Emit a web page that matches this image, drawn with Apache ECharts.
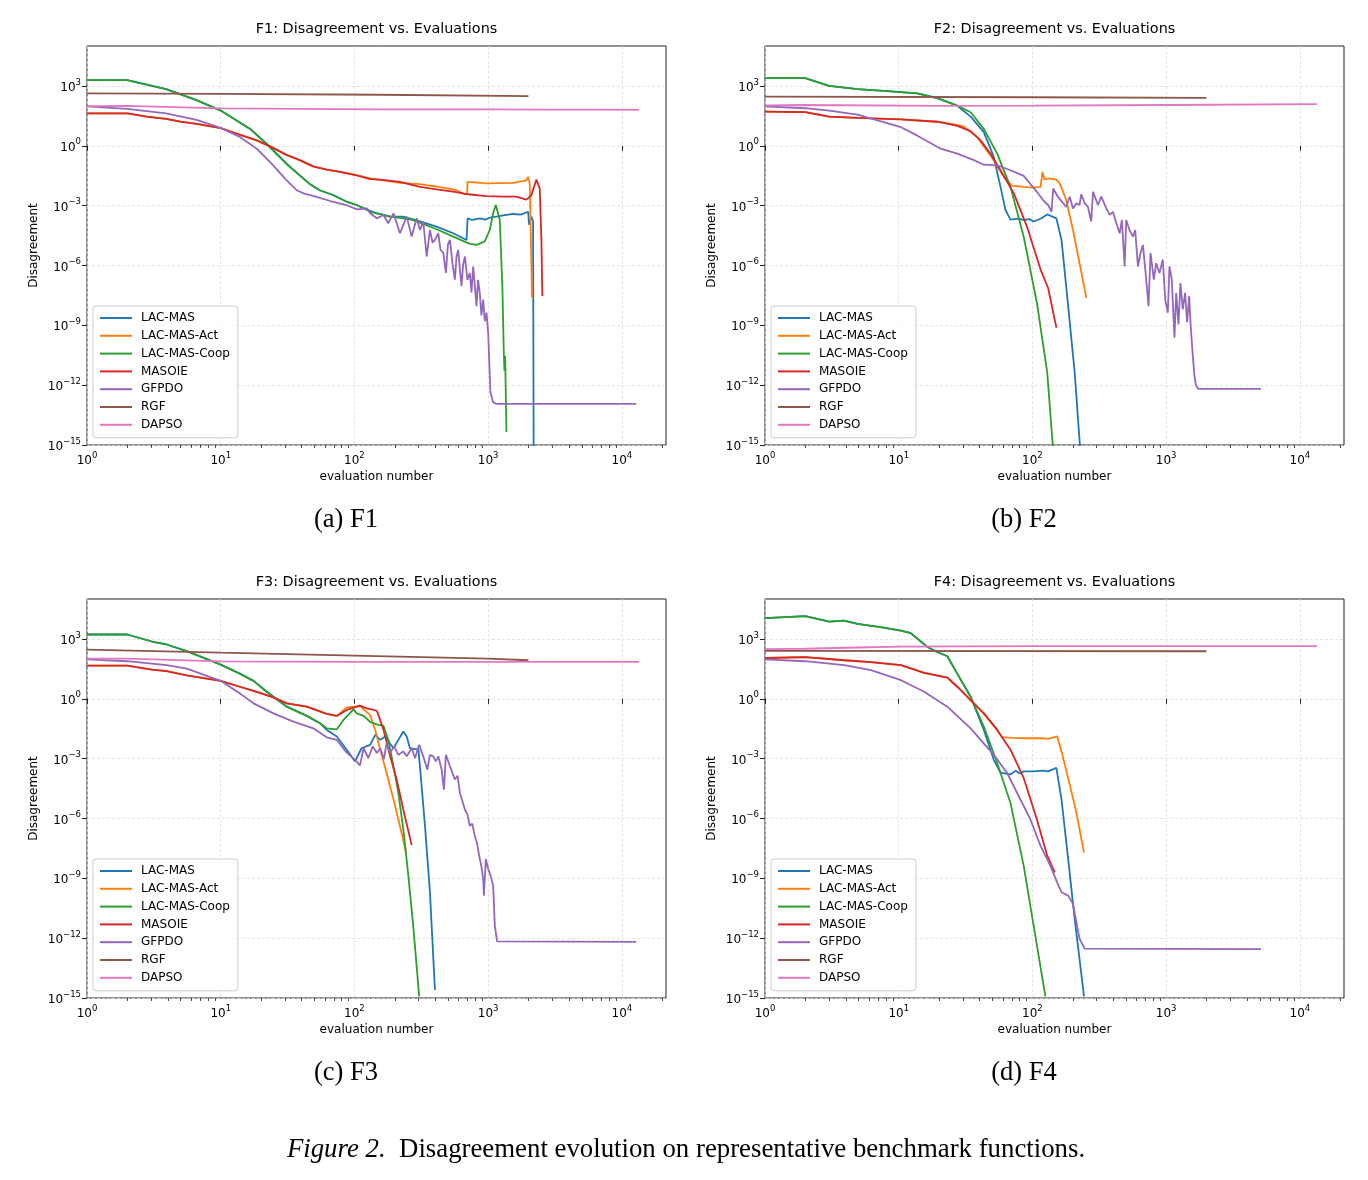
<!DOCTYPE html>
<html>
<head>
<meta charset="utf-8">
<title>Disagreement evolution</title>
<script src="https://cdn.jsdelivr.net/npm/echarts@6.0.0/dist/echarts.min.js"></script>
<style>
  html, body { margin: 0; padding: 0; background: #fff; }
  #main { width: 1368px; height: 1180px; }
</style>
</head>
<body>
<div id="main"></div>
<script>
// values: [evaluation number, disagreement]
var seriesNames = ['LAC-MAS', 'LAC-MAS-Act', 'LAC-MAS-Coop', 'MASOIE', 'GFPDO', 'RGF', 'DAPSO'];
var panelTitles = ['F1: Disagreement vs. Evaluations', 'F2: Disagreement vs. Evaluations',
                   'F3: Disagreement vs. Evaluations', 'F4: Disagreement vs. Evaluations'];
var subCaptions = ['(a) F1', '(b) F2', '(c) F3', '(d) F4'];
var xTickExps = [0, 1, 2, 3, 4];
var yTickExps = [-15, -12, -9, -6, -3, 0, 3];

// ---- F1
var f1LacMas = [[1,1950],[2,1950],[3.9,690],[6.6,195],[10,58],[16.6,7.0],[22,1.26],[31,0.126],[39,0.033],[46,0.0126],[55,5.9e-3],[69,3.4e-3],[87,1.6e-3],[104,1.07e-3],[131,5.5e-4],[147,4.1e-4],[185,2.8e-4],[232,2.8e-4],[309,1.6e-4],[411,8.9e-5],[548,4.1e-5],[689,1.9e-5],[702,2.3e-4],[760,1.9e-4],[866,2.3e-4],[950,2.0e-4],[1050,2.6e-4],[1154,2.8e-4],[1300,3.2e-4],[1538,3.8e-4],[1750,3.5e-4],[1990,4.9e-4],[2024,1.1e-4],[2105,2.8e-4],[2167,1.6e-4],[2190,1e-16]];
var f1LacMasAct = [[1,42],[2,42],[2.8,29],[3.9,22],[5,16],[6.6,12.5],[10,7.6],[14,3.5],[18.6,1.85],[23.4,0.93],[31,0.35],[39,0.19],[49,0.093],[62,0.063],[78,0.049],[104,0.034],[131,0.023],[219,0.0138],[309,0.0118],[424,8.7e-3],[564,6.4e-3],[670,3.7e-3],[695,4.0e-3],[702,0.0155],[972,0.0129],[1250,0.0135],[1538,0.0138],[1932,0.0186],[1990,0.0275],[2047,0.0129],[2130,2.4e-8]];
var f1LacMasCoop = [[1,1950],[2,1950],[3.9,690],[6.6,195],[10,58],[16.6,7.0],[22,1.26],[31,0.126],[39,0.033],[46,0.0126],[55,5.9e-3],[69,3.4e-3],[87,1.6e-3],[104,1.07e-3],[131,4.9e-4],[160,3.6e-4],[185,2.8e-4],[232,2.3e-4],[270,1.9e-4],[309,1.4e-4],[411,6.5e-5],[548,2.8e-5],[730,1.2e-5],[818,1.07e-5],[944,1.6e-5],[1029,6.0e-5],[1089,4.1e-4],[1141,1.07e-3],[1222,1.9e-4],[1279,6.2e-8],[1309,4.3e-11],[1324,5.2e-12],[1340,3e-11],[1370,4.5e-15]];
var f1Masoie = [[1,42],[2,42],[2.8,29],[3.9,22],[5,16],[6.6,12.5],[10,7.6],[14,3.5],[18.6,1.85],[23.4,0.93],[31,0.35],[39,0.19],[49,0.093],[62,0.063],[78,0.049],[104,0.033],[131,0.021],[155,0.020],[219,0.0155],[309,8.7e-3],[424,6.4e-3],[564,4.9e-3],[702,3.7e-3],[972,3.0e-3],[1309,2.8e-3],[1626,2.8e-3],[1932,2.0e-3],[2105,3.3e-3],[2203,8.7e-3],[2296,0.020],[2431,7.2e-3],[2502,1.9e-5],[2542,2.9e-8]];
var f1Gfpdo = [[1,95],[2,70],[3.9,42],[6.6,20],[10,7.9],[14,2.7],[18.6,0.71],[24.7,0.105],[31,0.019],[37,5.9e-3],[41.7,4.1e-3],[49,3.1e-3],[66,1.7e-3],[87,1.07e-3],[104,6.5e-4],[124,7.2e-4],[131,4.1e-4],[147,2.3e-4],[165,3.4e-4],[179,1.3e-4],[196,4.1e-4],[219,4.1e-5],[246,2.8e-4],[268,2.8e-5],[292,2.3e-4],[309,6.0e-5],[327,1.6e-4],[347,2.8e-6],[367,6.0e-5],[384,1.4e-5],[400,1.9e-5],[424,4.1e-5],[440,6.0e-6],[462,4.2e-6],[483,4.2e-7],[500,1.1e-5],[518,1.9e-5],[540,1.4e-6],[564,1.95e-7],[580,2.8e-6],[597,6.0e-6],[615,6.2e-7],[632,9.1e-8],[650,1.1e-6],[670,2.8e-6],[700,1.9e-7],[730,4.2e-7],[750,4.5e-8],[773,8.9e-7],[795,9.5e-8],[818,9.1e-9],[840,1.9e-7],[866,4.2e-8],[890,3.1e-9],[918,1.95e-8],[944,1.6e-9],[972,4.3e-9],[1000,4.3e-10],[1040,4.4e-13],[1089,1.4e-13],[1154,1.15e-13],[12800,1.15e-13]];
var f1Rgf = [[1,420],[10,400],[155,360],[2000,310]];
var f1Dapso = [[1,98],[2,100],[10,75],[155,67],[1000,66],[3000,64],[6000,65],[13400,63]];

// ---- F2
var f2LacMas = [[1,2450],[2,2450],[3.02,1000],[4.92,690],[8.7,530],[13.8,420],[19.4,245],[27.4,102],[34.5,29],[43.3,4.8],[51.4,0.275],[57.7,8.7e-3],[62.9,6.0e-4],[68.5,2.0e-4],[78,2.2e-4],[86,1.9e-4],[95,2.1e-4],[102,1.6e-4],[115,2.2e-4],[129,3.6e-4],[151,2.3e-4],[165,1.9e-5],[185,9.1e-9],[207,4.4e-12],[228,5e-16]];
var f2LacMasAct = [[1,51],[2,48],[3.02,29],[4.92,25],[10.4,21],[19.4,16],[27.4,11],[30.7,9.1],[38.6,2.7],[48.6,0.33],[61.1,0.0275],[70.5,9.8e-3],[86,8.7e-3],[100,8.0e-3],[115,8.7e-3],[119,0.049],[123,0.020],[131,0.023],[151,0.020],[160,0.0129],[179,1.9e-3],[201,6.0e-5],[225,1.3e-6],[253,2.4e-8]];
var f2LacMasCoop = [[1,2450],[2,2450],[3.02,1000],[4.92,690],[8.7,530],[13.8,420],[19.4,245],[27.4,102],[34.5,48],[43.3,7.0],[54.5,0.4],[68.5,8.7e-3],[86,2.8e-5],[108,1.35e-8],[129,4.4e-12],[143,5e-16]];
var f2Masoie = [[1,51],[2,48],[3.02,29],[4.92,25],[10.4,21],[19.4,16],[27.4,10],[34.5,5.4],[40.9,1.86],[48.6,0.4],[57.7,0.059],[72.6,4.1e-3],[91,8.9e-5],[115,6.2e-7],[131,7.4e-8],[151,7.6e-10]];
var f2Gfpdo = [[1,95],[2,76],[3.02,58],[4.92,36],[10.4,8.5],[13.8,3.2],[20.6,0.71],[27.4,0.4],[36.5,0.19],[43.3,0.112],[54.5,0.105],[68.5,0.059],[86,0.031],[108,4.9e-3],[120,1.9e-3],[131,1.07e-3],[139,4.9e-4],[143,7.2e-3],[155,2.8e-3],[170,1.3e-3],[179,8.7e-4],[190,2.8e-3],[201,7.2e-4],[213,1.3e-3],[225,1.07e-3],[232,3.7e-3],[246,1.3e-3],[260,8.7e-4],[275,1.6e-4],[284,4.9e-3],[309,1.07e-3],[327,2.8e-3],[357,7.2e-4],[378,3.4e-4],[400,4.9e-4],[424,1.3e-4],[449,4.1e-5],[467,1.9e-4],[489,8.9e-7],[503,1.9e-4],[532,6.0e-5],[564,2.8e-5],[587,6.0e-5],[615,8.9e-7],[643,4.2e-6],[670,1.07e-5],[702,4.2e-7],[738,9.1e-9],[764,4.2e-6],[809,1.95e-7],[842,1.3e-6],[891,4.2e-7],[944,1.95e-6],[984,1.95e-8],[1029,4.3e-9],[1059,8.9e-7],[1102,1.95e-7],[1154,2.4e-10],[1188,4.2e-8],[1237,1.1e-9],[1279,1.3e-7],[1331,6.2e-9],[1386,4.2e-8],[1435,1.4e-9],[1486,2.9e-8],[1520,1.4e-9],[1582,3.0e-11],[1627,3.0e-12],[1675,9.3e-13],[1743,6.5e-13],[5120,6.5e-13]];
var f2Rgf = [[1,290],[100,270],[2000,250]];
var f2Dapso = [[1,105],[2,110],[20,100],[100,102],[1000,110],[13400,123]];

// ---- F3
var f3LacMas = [[1,1660],[2,1660],[3.05,740],[3.94,525],[5.57,245],[10,51],[13.9,18.2],[17.6,7.9],[22.1,2.24],[31.2,0.4],[44,0.138],[55.3,0.059],[62.1,0.0275],[73.8,0.0129],[87.6,2.8e-3],[101,7.2e-4],[113,3.3e-3],[131,4.9e-3],[143,0.0155],[156,8.7e-3],[170,0.0129],[185,5.5e-3],[196,3.3e-3],[213,8.7e-3],[232,0.023],[246,0.0129],[260,3.3e-3],[301,2.8e-3],[309,4.1e-4],[337,4.2e-7],[367,2.0e-10],[400,2.5e-15]];
var f3LacMasAct = [[1,46],[2,46],[3.05,29],[3.94,24],[5.57,15],[10,7.9],[13.9,4.0],[17.6,2.5],[24.8,1.17],[31.2,0.59],[44,0.4],[62.1,0.174],[73.8,0.138],[87.6,0.37],[110,0.43],[131,0.15],[143,0.0275],[156,2.8e-3],[174,1.9e-4],[196,8.9e-6],[219,4.2e-7],[243,2.1e-8]];
var f3LacMasCoop = [[1,1660],[2,1660],[3.05,740],[3.94,525],[5.57,245],[10,51],[13.9,18.2],[17.6,7.9],[22.1,2.24],[31.2,0.4],[44,0.138],[55.3,0.059],[62.1,0.033],[73.8,0.0295],[82.8,0.087],[98.3,0.295],[104,0.186],[117,0.14],[131,0.07],[147,0.052],[165,0.044],[179,8.7e-3],[196,4.1e-4],[213,1.9e-5],[232,2.9e-7],[253,1.35e-9],[275,4.4e-12],[305,1.2e-15]];
var f3Masoie = [[1,46],[2,46],[3.05,29],[3.94,24],[5.57,15],[10,7.9],[13.9,4.0],[17.6,2.5],[24.8,1.17],[31.2,0.59],[44,0.4],[62.1,0.174],[73.8,0.138],[87.6,0.275],[110,0.45],[124,0.33],[139,0.28],[147,0.25],[151,0.155],[165,0.0275],[185,1.3e-3],[207,8.9e-5],[232,2.8e-6],[268,4.6e-8]];
var f3Gfpdo = [[1,95],[2,76],[3.94,48],[5.57,32],[10,7.9],[13.9,1.86],[17.6,0.59],[24.8,0.186],[35,0.071],[49.3,0.033],[62.1,0.0117],[73.8,8.7e-3],[87.6,2.0e-3],[101,8.7e-4],[110,4.6e-4],[117,3.3e-3],[127,1.07e-3],[137,4.1e-3],[147,1.9e-3],[156,3.3e-3],[166,9.5e-4],[174,5.9e-3],[185,1.9e-3],[198,4.1e-3],[213,1.55e-3],[232,2.3e-3],[246,1.3e-3],[268,3.3e-3],[284,1.07e-3],[305,4.9e-3],[327,1.3e-3],[351,2.8e-4],[367,1.55e-3],[389,1.3e-3],[406,7.2e-4],[424,1.3e-3],[449,2.8e-4],[467,2.8e-5],[483,1.55e-3],[518,4.1e-4],[564,8.9e-5],[590,1.4e-4],[615,1.9e-5],[640,8.0e-6],[670,2.8e-6],[700,1.6e-6],[730,4.2e-7],[760,5.5e-7],[795,1.3e-7],[825,6.0e-8],[857,1.35e-8],[890,4.0e-9],[918,9.1e-10],[929,1.35e-10],[961,9.1e-9],[1000,3.0e-9],[1041,1.4e-9],[1090,4.3e-10],[1121,4.4e-12],[1167,6.9e-13],[12800,6.5e-13]];
var f3Rgf = [[1,290],[10,204],[100,145],[1000,102],[2000,85]];
var f3Dapso = [[1,102],[2,102],[10,75],[100,70],[1000,70],[13400,70]];

// ---- F4
var f4LacMas = [[1,1.1e4],[2,1.4e4],[3.02,7.4e3],[3.91,8.3e3],[4.92,5.6e3],[7.3,3.9e3],[10.4,2.6e3],[12.3,1.95e3],[16.4,390],[19.4,220],[23.1,135],[27.4,18.2],[34.5,1.26],[43.3,0.0275],[51.4,8.7e-4],[57.7,2.0e-4],[68.5,1.6e-4],[75,2.5e-4],[80,1.8e-4],[86,2.3e-4],[102,2.3e-4],[120,2.5e-4],[131,2.3e-4],[151,3.4e-4],[165,8.9e-6],[185,9.1e-9],[207,9.3e-12],[243,1.2e-15]];
var f4LacMasAct = [[1,110],[2,123],[3.91,85],[6.2,69],[10.4,48],[15.5,20],[23.1,11.5],[27.4,4.0],[34.5,0.85],[43.3,0.186],[54.5,0.0275],[59.4,0.0118],[70,0.011],[86,0.0105],[115,0.0105],[131,9.8e-3],[153,0.0129],[165,2.3e-3],[190,5.0e-5],[213,1.95e-6],[243,1.95e-8]];
var f4LacMasCoop = [[1,1.1e4],[2,1.4e4],[3.02,7.4e3],[3.91,8.3e3],[4.92,5.6e3],[7.3,3.9e3],[10.4,2.6e3],[12.3,1.95e3],[16.4,390],[19.4,220],[23.1,135],[27.4,18.2],[34.5,1.26],[43.3,0.04],[54.5,6.0e-4],[68.5,6.0e-6],[86,4.3e-9],[102,4.4e-12],[125,1.2e-15]];
var f4Masoie = [[1,110],[2,123],[3.91,85],[6.2,69],[10.4,48],[15.5,20],[23.1,11.5],[27.4,4.0],[34.5,0.85],[43.3,0.186],[54.5,0.0275],[68.5,2.8e-3],[86,1.07e-4],[108,8.9e-7],[129,1.35e-8],[147,2.0e-9]];
var f4Gfpdo = [[1,95],[2,76],[3.91,48],[6.2,27],[10.4,8.5],[15.5,2.24],[23.1,0.4],[34.5,0.033],[51.4,1.55e-3],[64.7,1.9e-4],[81.3,8.9e-6],[96.6,8.9e-7],[115,4.2e-8],[136,4.3e-9],[153,6.3e-10],[165,2.0e-10],[185,1.35e-10],[201,5.2e-11],[225,9.3e-13],[246,3.0e-13],[5120,2.8e-13]];
var f4Rgf = [[1,250],[2000,240]];
var f4Dapso = [[1,310],[2,320],[5,370],[10,410],[100,430],[13400,430]];

var panelData = [
  [f1LacMas, f1LacMasAct, f1LacMasCoop, f1Masoie, f1Gfpdo, f1Rgf, f1Dapso],
  [f2LacMas, f2LacMasAct, f2LacMasCoop, f2Masoie, f2Gfpdo, f2Rgf, f2Dapso],
  [f3LacMas, f3LacMasAct, f3LacMasCoop, f3Masoie, f3Gfpdo, f3Rgf, f3Dapso],
  [f4LacMas, f4LacMasAct, f4LacMasCoop, f4Masoie, f4Gfpdo, f4Rgf, f4Dapso]
];

// ---- layout / style
var colors = ['#1f77b4', '#ff7f0e', '#2ca02c', '#d62728', '#9467bd', '#8c564b', '#e377c2'];
var FONT = '"DejaVu Sans", sans-serif';
var SERIF = '"Liberation Serif", "Times New Roman", serif';
var boxes = [{left: 87, top: 46}, {left: 765, top: 46}, {left: 87, top: 599}, {left: 765, top: 599}];
var W = 579, H = 399;
var xMax = 4.33, yMin = -15, yMax = 5;   // log10 extents of the axes

function toLog(arr) {
  return arr.map(function (p) { return [Math.log10(p[0]), Math.log10(p[1])]; });
}
function supLabel(v) {
  return '{b|10}{s|' + (v < 0 ? '\u2212' + (-v) : v) + '}';
}
var richSup = {
  b: {fontSize: 12, fontFamily: FONT, color: '#000', verticalAlign: 'bottom'},
  s: {fontSize: 8.5, fontFamily: FONT, color: '#000', verticalAlign: 'top', padding: [0, 0, 7, 0]}
};

// minor ticks of the log x axis (2..9 x 10^n)
var xMinor = [];
for (var e = 0; e < 5; e++) {
  for (var k = 2; k < 10; k++) {
    var v = e + Math.log10(k);
    if (v < xMax) xMinor.push([v, yMin]);
  }
}

var grids = [], xAxes = [], yAxes = [], series = [], legends = [], graphics = [];

boxes.forEach(function (b, i) {
  grids.push({left: b.left, top: b.top, width: W, height: H, show: true,
    borderColor: '#222', borderWidth: 1, backgroundColor: 'transparent', containLabel: false});

  xAxes.push({
    type: 'value', gridIndex: i, min: 0, max: xMax, interval: 1,
    axisLine: {show: false},
    axisTick: {show: true, length: 5, customValues: xTickExps, lineStyle: {color: '#222', width: 1}},
    axisLabel: {margin: 6, customValues: xTickExps, formatter: supLabel, rich: richSup},
    splitLine: {show: true, lineStyle: {color: '#dedede', width: 0.8, type: [3, 2]}},
    name: 'evaluation number', nameLocation: 'middle', nameGap: 26,
    nameTextStyle: {fontSize: 12, fontFamily: FONT, color: '#000'}
  });

  yAxes.push({
    type: 'value', gridIndex: i, min: yMin, max: yMax, interval: 3,
    axisLine: {show: false},
    axisTick: {show: true, length: 5, customValues: yTickExps, lineStyle: {color: '#222', width: 1}},
    axisLabel: {margin: 6, customValues: yTickExps, formatter: function (v) {
      return (v % 3 === 0 && v <= 3) ? supLabel(v) : '';
    }, rich: richSup},
    splitLine: {show: true, lineStyle: {color: '#dedede', width: 0.8, type: [3, 2]}},
    name: 'Disagreement', nameLocation: 'middle', nameGap: 47, nameRotate: 90,
    nameTextStyle: {fontSize: 12, fontFamily: FONT, color: '#000'}
  });

  panelData[i].forEach(function (arr, s) {
    series.push({
      type: 'line', name: seriesNames[s], xAxisIndex: i, yAxisIndex: i,
      data: toLog(arr), symbol: 'none', showSymbol: false, clip: true,
      lineStyle: {width: 1.8, color: colors[s]}, itemStyle: {color: colors[s]},
      emphasis: {disabled: true}, animation: false
    });
  });

  series.push({
    type: 'custom', xAxisIndex: i, yAxisIndex: i, silent: true, clip: false, z: 5,
    data: xMinor, encode: {x: 0, y: 1}, animation: false,
    renderItem: function (params, api) {
      var p = api.coord([api.value(0), api.value(1)]);
      var x = Math.round(p[0]) + 0.5;
      return {type: 'line', shape: {x1: x, y1: p[1], x2: x, y2: p[1] + 3},
              style: {stroke: '#222', lineWidth: 0.8}};
    }
  });

  legends.push({
    data: seriesNames, orient: 'vertical', left: b.left + 6, top: b.top + 260,
    icon: 'rect', itemWidth: 32, itemHeight: 2, itemGap: 3.8,
    padding: [5, 8, 6, 7], backgroundColor: 'rgba(255,255,255,0.85)',
    borderColor: '#cccccc', borderWidth: 1, borderRadius: 3,
    textStyle: {fontSize: 12, fontFamily: FONT, color: '#000', lineHeight: 14, padding: [0, 0, 0, 4]},
    selectedMode: false
  });

  graphics.push({
    type: 'text', x: b.left + W / 2, y: b.top - 17,
    style: {text: panelTitles[i], font: '14.4px ' + FONT, fill: '#000',
            align: 'center', verticalAlign: 'middle', textAlign: 'center', textVerticalAlign: 'middle'}
  });
  graphics.push({
    type: 'text', x: b.left + 259, y: b.top + 474,
    style: {text: subCaptions[i], font: '26.5px ' + SERIF, fill: '#000',
            align: 'center', verticalAlign: 'middle', textAlign: 'center', textVerticalAlign: 'middle'}
  });
});

graphics.push({
  type: 'text', x: 686, y: 1150,
  style: {
    text: '{i|Figure 2.}{n|  Disagreement evolution on representative benchmark functions.}',
    rich: {
      i: {fontSize: 26.8, fontFamily: SERIF, fontStyle: 'italic', fill: '#000', color: '#000'},
      n: {fontSize: 26.8, fontFamily: SERIF, fill: '#000', color: '#000'}
    },
    fill: '#000', align: 'center', verticalAlign: 'middle', textAlign: 'center', textVerticalAlign: 'middle'
  }
});

var chart = echarts.init(document.getElementById('main'), null, {renderer: 'canvas'});
chart.setOption({
  animation: false,
  backgroundColor: '#ffffff',
  textStyle: {fontFamily: FONT},
  grid: grids,
  xAxis: xAxes,
  yAxis: yAxes,
  legend: legends,
  series: series,
  graphic: graphics
});
</script>
</body>
</html>
